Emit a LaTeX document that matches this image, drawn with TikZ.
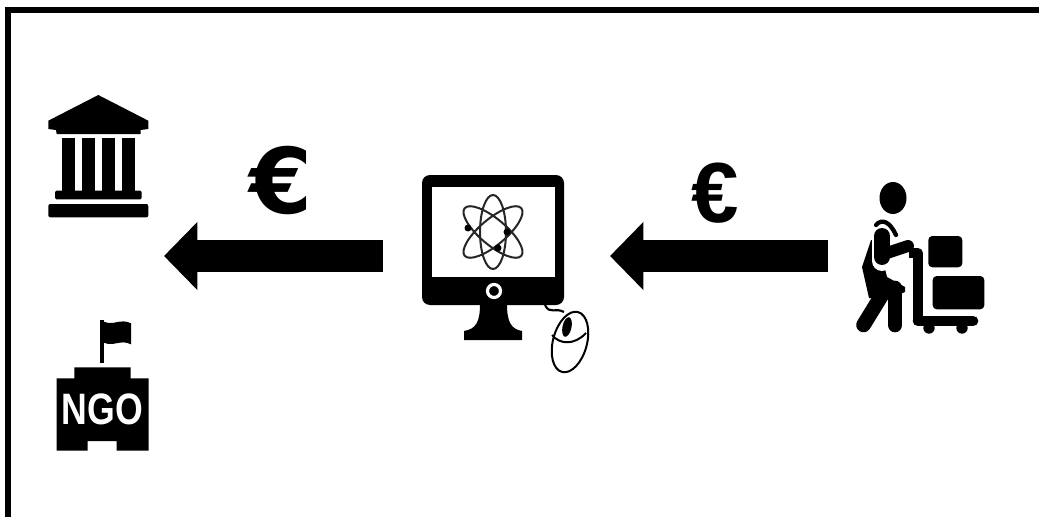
\documentclass[tikz,border=0pt]{standalone}
\usepackage{fontspec}
\usepackage{tikz}
\usetikzlibrary{arrows.meta}
\setmainfont{Liberation Sans}
\newfontfamily\eurofont{DejaVu Sans}
\tikzset{
  icon/.style={fill=black,draw=none},
  thinline/.style={draw=black,line width=1.5},
  flow/.style={draw=black,line width=24pt,-{Triangle[length=25pt,width=49.5pt]}},
  holder/.style={draw=none,inner sep=0pt,outer sep=0pt},
  money/.style={inner sep=0pt,font=\eurofont\bfseries}
}
\begin{document}
\begin{tikzpicture}[x=0.75pt,y=-0.75pt]
\useasboundingbox (0,0) rectangle (1039,517);
\coordinate (framer) at (1039,10);
\coordinate (framec) at (8,10);
\coordinate (frameb) at (8,517);
\draw[line width=4.2pt,line join=miter] (framer) -- (framec) -- (frameb);
% bank
\fill[icon] (98.3,95) -- (48.3,120.7) -- (48.3,129) -- (56,130) -- (56.7,134) -- (140.7,134) -- (140.7,130) -- (148.3,129) -- (148.3,120.7) -- cycle;
\foreach \c in {61.7,81.7,101.7,121.7}
  \fill[icon] (\c,138.3) rectangle (\c+13.3,190.7);
\fill[icon,rounded corners=1pt] (55,190.7) rectangle (141.7,199.3);
\fill[icon,rounded corners=1.5pt] (48.3,204) rectangle (148.3,217.3);
% ngo
\fill[icon] (100.3,320) rectangle (104,363.3);
\fill[icon] (104,321.7) .. controls (114,326) and (120,318) .. (131,323.3) -- (131,344.3) .. controls (120,339) and (114,347) .. (104,342.7) -- cycle;
\fill[icon] (56.7,378.3) -- (74.3,378.3) -- (74.3,367.3) -- (130.7,367.3) -- (130.7,378.3) -- (148.7,378.3) -- (148.7,450.7) -- (116.7,450.7) -- (116.7,441) -- (87.7,441) -- (87.7,450.7) -- (56.7,450.7) -- cycle;
\node[holder,text=white,font=\bfseries\fontsize{33}{33}\selectfont,xscale=.81] (ngo) at (102.5,409) {NGO};
% computer
\node[holder,minimum width=170.25pt,minimum height=75pt] (monitor) at (496.5,256) {};
\fill[icon,rounded corners=6pt] (422,175) rectangle (564,305);
\fill[white] (432,187) rectangle (555,277);
\fill[icon] (480,304) .. controls (480,322) and (476,329) .. (464,331) -- (464,340) -- (522,340) -- (522,331) .. controls (511,329) and (507,322) .. (507,304) -- cycle;
\draw[white,line width=2.4pt] (494,291) circle (6.5);
\foreach \a in {0,50,-50}
  \draw[thinline,black!85,rotate around={\a:(493,232)}] (493,232) ellipse (13 and 37);
\foreach \dx/\dy in {468/228,507/232,498/248}
  \fill[icon] (\dx,\dy) circle (3.5);
% mouse
\draw[thinline,line width=1.6pt] (545,305) .. controls (550,315) and (555,307) .. (564,312);
\draw[thinline,rotate around={-15:(570,342)},fill=white] (570,342) ellipse (17 and 31);
\draw[thinline] (552,335) .. controls (560,345) and (575,345) .. (586,333);
\fill[icon,rotate around={-12:(567,327)}] (567,327) ellipse (4.5 and 10);
% worker
\node[holder,minimum width=138pt,minimum height=120pt] (worker) at (920,256) {};
\fill[icon] (893,198) ellipse (13.5 and 16);
\fill[icon] (871,240) -- (862,267) -- (869,298) -- (885,300) -- (905,292) -- (905,287) -- (887,277) -- (878,240) -- cycle;
\draw[line width=11pt,line cap=round] (885,290) -- (863.5,325);
\draw[line width=11pt,line cap=round] (895,288) -- (895,325);
\draw[white,line width=15pt,line cap=round,line join=round] (882,237) -- (882,261);
\draw[white,line width=3pt,line cap=round] (875,229) -- (874,244);
\draw[line width=12pt,line cap=round,line join=round] (882,236) -- (882,257);
\draw[line width=9pt,line cap=round,line join=round] (884,254) -- (908,246);
\draw[line width=3.2pt,line cap=round] (876,225) .. controls (882,218) and (890,222) .. (896,235);
\draw[line width=7pt,line join=round] (909,253) -- (918,253) -- (918,321);
\draw[line width=8pt,line cap=round] (918,321) -- (973,321);
\foreach \wx in {929,962}
  \fill[icon] (\wx,328) circle (5.7);
\fill[icon,rounded corners=3pt] (928.3,236) rectangle (962.3,267.3);
\fill[icon,rounded corners=3pt] (932.7,276) rectangle (984.3,309.3);
% flows
\coordinate (funders) at (164,256);
\draw[flow] (worker.west) -- (monitor.east);
\draw[flow] (monitor.west) -- (funders);
\node[money,font=\eurofont\bfseries\fontsize{68}{68}\selectfont] (bigeuro) at (281,180) {€};
\node[money,font=\bfseries\fontsize{64}{64}\selectfont] (smalleuro) at (715,193) {€};
\end{tikzpicture}
\end{document}
